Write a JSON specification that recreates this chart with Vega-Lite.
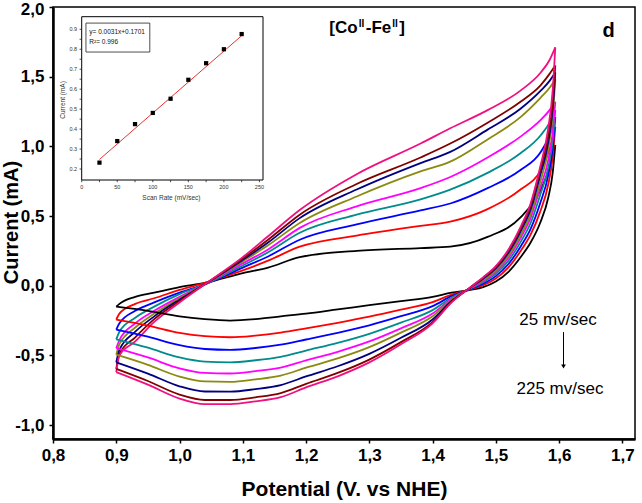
{
  "$schema": "https://vega.github.io/schema/vega-lite/v6.json",
  "width": 582,
  "height": 432,
  "autosize": {"type": "none"},
  "padding": {"left": 53, "top": 7, "right": 7, "bottom": 64},
  "config": {"view": {"stroke": "black", "strokeWidth": 1.5}, "font": "Liberation Sans"},
  "datasets": {
    "cv": [
      {"b":"u","V":0.9,"s25":-0.15,"s50":-0.244,"s75":-0.315,"s100":-0.385,"s125":-0.448,"s150":-0.495,"s175":-0.55,"s200":-0.597,"s225":-0.62},
      {"b":"u","V":0.905,"s25":-0.13,"s50":-0.20,"s75":-0.27,"s100":-0.33,"s125":-0.39,"s150":-0.42,"s175":-0.46,"s200":-0.49,"s225":-0.50},
      {"b":"u","V":0.93,"s25":-0.08,"s50":-0.13,"s75":-0.18,"s100":-0.23,"s125":-0.27,"s150":-0.30,"s175":-0.33,"s200":-0.37,"s225":-0.40},
      {"b":"u","V":0.96,"s25":-0.05,"s50":-0.09,"s75":-0.12,"s100":-0.15,"s125":-0.18,"s150":-0.20,"s175":-0.22,"s200":-0.24,"s225":-0.26},
      {"b":"u","V":1.0,"s25":-0.01,"s50":-0.03,"s75":-0.05,"s100":-0.06,"s125":-0.08,"s150":-0.09,"s175":-0.10,"s200":-0.11,"s225":-0.12},
      {"b":"u","V":1.04,"s25":0.02,"s50":0.02,"s75":0.01,"s100":0.01,"s125":0.01,"s150":0.01,"s175":0.01,"s200":0.01,"s225":0.01},
      {"b":"u","V":1.1,"s25":0.09,"s50":0.11,"s75":0.13,"s100":0.145,"s125":0.16,"s150":0.175,"s175":0.185,"s200":0.195,"s225":0.205},
      {"b":"u","V":1.14,"s25":0.13,"s50":0.18,"s75":0.21,"s100":0.24,"s125":0.26,"s150":0.29,"s175":0.31,"s200":0.33,"s225":0.355},
      {"b":"u","V":1.19,"s25":0.205,"s50":0.28,"s75":0.33,"s100":0.38,"s125":0.415,"s150":0.45,"s175":0.485,"s200":0.51,"s225":0.543},
      {"b":"u","V":1.28,"s25":0.25,"s50":0.36,"s75":0.44,"s100":0.51,"s125":0.57,"s150":0.64,"s175":0.69,"s200":0.73,"s225":0.80},
      {"b":"u","V":1.381,"s25":0.27,"s50":0.43,"s75":0.54,"s100":0.62,"s125":0.70,"s150":0.82,"s175":0.88,"s200":0.92,"s225":1.02},
      {"b":"u","V":1.428,"s25":0.28,"s50":0.46,"s75":0.59,"s100":0.69,"s125":0.78,"s150":0.89,"s175":0.96,"s200":1.02,"s225":1.13},
      {"b":"u","V":1.487,"s25":0.35,"s50":0.55,"s75":0.70,"s100":0.81,"s125":0.92,"s150":1.05,"s175":1.12,"s200":1.17,"s225":1.26},
      {"b":"u","V":1.539,"s25":0.49,"s50":0.69,"s75":0.83,"s100":0.95,"s125":1.07,"s150":1.21,"s175":1.27,"s200":1.32,"s225":1.40},
      {"b":"u","V":1.571,"s25":0.69,"s50":0.83,"s75":0.96,"s100":1.08,"s125":1.19,"s150":1.35,"s175":1.40,"s200":1.44,"s225":1.53},
      {"b":"u","V":1.585,"s25":0.85,"s50":0.98,"s75":1.08,"s100":1.17,"s125":1.26,"s150":1.42,"s175":1.47,"s200":1.52,"s225":1.62},
      {"b":"u","V":1.594,"s25":1.01,"s50":1.14,"s75":1.21,"s100":1.26,"s125":1.32,"s150":1.48,"s175":1.53,"s200":1.58,"s225":1.71},
      {"b":"l","V":1.594,"s25":1.01,"s50":1.14,"s75":1.21,"s100":1.26,"s125":1.32,"s150":1.48,"s175":1.53,"s200":1.58,"s225":1.71},
      {"b":"l","V":1.59,"s25":0.814,"s50":0.927,"s75":0.993,"s100":1.047,"s125":1.103,"s150":1.221,"s175":1.271,"s200":1.318,"s225":1.409},
      {"b":"l","V":1.583,"s25":0.635,"s50":0.73,"s75":0.795,"s100":0.85,"s125":0.905,"s150":0.984,"s175":1.034,"s200":1.078,"s225":1.134},
      {"b":"l","V":1.57,"s25":0.45,"s50":0.53,"s75":0.59,"s100":0.65,"s125":0.70,"s150":0.74,"s175":0.79,"s200":0.83,"s225":0.85},
      {"b":"l","V":1.555,"s25":0.31,"s50":0.366,"s75":0.408,"s100":0.45,"s125":0.487,"s150":0.515,"s175":0.548,"s200":0.576,"s225":0.59},
      {"b":"l","V":1.54,"s25":0.21,"s50":0.254,"s75":0.287,"s100":0.32,"s125":0.349,"s150":0.371,"s175":0.397,"s200":0.419,"s225":0.43},
      {"b":"l","V":1.52,"s25":0.10,"s50":0.132,"s75":0.156,"s100":0.18,"s125":0.201,"s150":0.217,"s175":0.236,"s200":0.252,"s225":0.26},
      {"b":"l","V":1.5,"s25":0.03,"s50":0.052,"s75":0.069,"s100":0.085,"s125":0.10,"s150":0.111,"s175":0.124,"s200":0.135,"s225":0.14},
      {"b":"l","V":1.48,"s25":-0.01,"s50":0.004,"s75":0.015,"s100":0.025,"s125":0.034,"s150":0.041,"s175":0.05,"s200":0.057,"s225":0.06},
      {"b":"l","V":1.46,"s25":-0.03,"s50":-0.026,"s75":-0.023,"s100":-0.02,"s125":-0.017,"s150":-0.015,"s175":-0.013,"s200":-0.011,"s225":-0.01},
      {"b":"l","V":1.43,"s25":-0.05,"s50":-0.064,"s75":-0.075,"s100":-0.085,"s125":-0.094,"s150":-0.101,"s175":-0.11,"s200":-0.117,"s225":-0.12},
      {"b":"l","V":1.4,"s25":-0.08,"s50":-0.118,"s75":-0.147,"s100":-0.175,"s125":-0.20,"s150":-0.219,"s175":-0.242,"s200":-0.261,"s225":-0.27},
      {"b":"l","V":1.35,"s25":-0.11,"s50":-0.172,"s75":-0.219,"s100":-0.265,"s125":-0.306,"s150":-0.337,"s175":-0.374,"s200":-0.405,"s225":-0.42},
      {"b":"l","V":1.3,"s25":-0.14,"s50":-0.222,"s75":-0.284,"s100":-0.345,"s125":-0.40,"s150":-0.441,"s175":-0.489,"s200":-0.53,"s225":-0.55},
      {"b":"l","V":1.25,"s25":-0.17,"s50":-0.266,"s75":-0.338,"s100":-0.41,"s125":-0.474,"s150":-0.522,"s175":-0.578,"s200":-0.626,"s225":-0.65},
      {"b":"l","V":1.2,"s25":-0.20,"s50":-0.306,"s75":-0.386,"s100":-0.465,"s125":-0.535,"s150":-0.588,"s175":-0.651,"s200":-0.704,"s225":-0.73},
      {"b":"l","V":1.16,"s25":-0.22,"s50":-0.336,"s75":-0.423,"s100":-0.51,"s125":-0.587,"s150":-0.645,"s175":-0.713,"s200":-0.771,"s225":-0.80},
      {"b":"l","V":1.12,"s25":-0.24,"s50":-0.358,"s75":-0.447,"s100":-0.535,"s125":-0.613,"s150":-0.672,"s175":-0.742,"s200":-0.801,"s225":-0.83},
      {"b":"l","V":1.08,"s25":-0.25,"s50":-0.37,"s75":-0.46,"s100":-0.55,"s125":-0.63,"s150":-0.69,"s175":-0.76,"s200":-0.82,"s225":-0.85},
      {"b":"l","V":1.04,"s25":-0.24,"s50":-0.362,"s75":-0.454,"s100":-0.545,"s125":-0.626,"s150":-0.687,"s175":-0.759,"s200":-0.82,"s225":-0.85},
      {"b":"l","V":1.0,"s25":-0.22,"s50":-0.338,"s75":-0.427,"s100":-0.515,"s125":-0.593,"s150":-0.652,"s175":-0.722,"s200":-0.781,"s225":-0.81},
      {"b":"l","V":0.95,"s25":-0.18,"s50":-0.286,"s75":-0.366,"s100":-0.445,"s125":-0.515,"s150":-0.568,"s175":-0.631,"s200":-0.684,"s225":-0.71},
      {"b":"l","V":0.9,"s25":-0.15,"s50":-0.244,"s75":-0.315,"s100":-0.385,"s125":-0.448,"s150":-0.495,"s175":-0.55,"s200":-0.597,"s225":-0.62}
    ],
    "inset": [
      {"sr":25,"cur":0.232},{"sr":50,"cur":0.340},{"sr":75,"cur":0.425},{"sr":100,"cur":0.481},{"sr":125,"cur":0.552},
      {"sr":150,"cur":0.647},{"sr":175,"cur":0.730},{"sr":200,"cur":0.800},{"sr":225,"cur":0.876}
    ],
    "fit": [{"sr":25,"cur":0.248},{"sr":225,"cur":0.868}],
    "xt": [{"v":0},{"v":25},{"v":50},{"v":75},{"v":100},{"v":125},{"v":150},{"v":175},{"v":200},{"v":225},{"v":250}],
    "yt": [{"v":0.2},{"v":0.25},{"v":0.3},{"v":0.35},{"v":0.4},{"v":0.45},{"v":0.5},{"v":0.55},{"v":0.6},{"v":0.65},{"v":0.7},{"v":0.75},{"v":0.8},{"v":0.85},{"v":0.9}]
  },
  "layer": [
    {
      "layer": [
        {
          "data": {"name": "cv"},
          "transform": [{"fold": ["s25","s50","s75","s100","s125","s150","s175","s200","s225"], "as": ["rate","I"]}],
          "mark": {"type": "line", "interpolate": "monotone", "strokeWidth": 1.8},
          "encoding": {
            "x": {"field": "V", "type": "quantitative",
              "scale": {"domain": [0.8, 1.72], "nice": false, "zero": false},
              "axis": {"orient": "bottom", "values": [0.8,0.85,0.9,0.95,1.0,1.05,1.1,1.15,1.2,1.25,1.3,1.35,1.4,1.45,1.5,1.55,1.6,1.65,1.7],
                "labelExpr": "abs(round(datum.value*20))%2==1 ? '' : replace(format(datum.value,'.1f'),'.',',')",
                "title": "Potential (V. vs NHE)", "grid": false, "labelFlush": false, "labelOverlap": false,
                "domainColor": "black", "domainWidth": 2.5, "tickColor": "black", "tickWidth": 1.5, "tickSize": 4,
                "labelFont": "Liberation Sans", "labelFontSize": 17, "labelFontWeight": "bold", "labelColor": "black", "labelPadding": 4,
                "titleFont": "Liberation Sans", "titleFontSize": 21, "titleFontWeight": "bold", "titleColor": "black",
                "titleBaseline": "top", "titleY": 39}},
            "y": {"field": "I", "type": "quantitative",
              "scale": {"domain": [-1.1, 2.0], "nice": false, "zero": false},
              "axis": {"orient": "left", "values": [-1,-0.75,-0.5,-0.25,0,0.25,0.5,0.75,1,1.25,1.5,1.75,2],
                "labelExpr": "abs(round(datum.value*4))%2==1 ? '' : replace(replace(format(datum.value,'.1f'),'.',','),'\u2212','-')",
                "labelOffset": {"condition": {"test": "datum.value >= 1.99", "value": 2}, "value": 0},
                "title": "Current (mA)", "grid": false, "labelFlush": false, "labelOverlap": false,
                "domainColor": "black", "domainWidth": 2.5, "tickColor": "black", "tickWidth": 1.5, "tickSize": 4,
                "labelFont": "Liberation Sans", "labelFontSize": 17, "labelFontWeight": "bold", "labelColor": "black", "labelPadding": 5,
                "titleFont": "Liberation Sans", "titleFontSize": 20, "titleFontWeight": "bold", "titleColor": "black",
                "titleX": -32, "titleY": 215}},
            "color": {"field": "rate", "type": "nominal",
              "scale": {"domain": ["s25","s50","s75","s100","s125","s150","s175","s200","s225"],
                "range": ["#000000","#ff0000","#0000ff","#008c8c","#ff00ff","#8a8a10","#000080","#800000","#f0107f"]},
              "legend": null},
            "detail": {"field": "b"}
          }
        },
        {"data": {"values": [{}]}, "mark": {"type": "text", "text": "[Co", "font": "Liberation Sans", "fontWeight": "bold", "fontSize": 17, "align": "left", "baseline": "alphabetic"},
          "encoding": {"x": {"datum": 1.2367, "type": "quantitative"}, "y": {"datum": 1.8134, "type": "quantitative"}}},
        {"data": {"values": [{}]}, "mark": {"type": "text", "text": "II", "font": "Liberation Sans", "fontWeight": "bold", "fontSize": 10, "align": "left", "baseline": "alphabetic"},
          "encoding": {"x": {"datum": 1.2834, "type": "quantitative"}, "y": {"datum": 1.8564, "type": "quantitative"}}},
        {"data": {"values": [{}]}, "mark": {"type": "text", "text": "-Fe", "font": "Liberation Sans", "fontWeight": "bold", "fontSize": 17, "align": "left", "baseline": "alphabetic"},
          "encoding": {"x": {"datum": 1.2945, "type": "quantitative"}, "y": {"datum": 1.8134, "type": "quantitative"}}},
        {"data": {"values": [{}]}, "mark": {"type": "text", "text": "II", "font": "Liberation Sans", "fontWeight": "bold", "fontSize": 10, "align": "left", "baseline": "alphabetic"},
          "encoding": {"x": {"datum": 1.3364, "type": "quantitative"}, "y": {"datum": 1.8564, "type": "quantitative"}}},
        {"data": {"values": [{}]}, "mark": {"type": "text", "text": "]", "font": "Liberation Sans", "fontWeight": "bold", "fontSize": 17, "align": "left", "baseline": "alphabetic"},
          "encoding": {"x": {"datum": 1.3475, "type": "quantitative"}, "y": {"datum": 1.8134, "type": "quantitative"}}},
        {"data": {"values": [{}]}, "mark": {"type": "text", "text": "d", "font": "Liberation Sans", "fontWeight": "bold", "fontSize": 20, "align": "center", "baseline": "alphabetic"},
          "encoding": {"x": {"datum": 1.6782, "type": "quantitative"}, "y": {"datum": 1.7846, "type": "quantitative"}}},
        {"data": {"values": [{}]}, "mark": {"type": "text", "text": "25 mv/sec", "font": "Liberation Sans", "fontSize": 17, "align": "center", "baseline": "middle"},
          "encoding": {"x": {"datum": 1.5983, "type": "quantitative"}, "y": {"datum": -0.247, "type": "quantitative"}}},
        {"data": {"values": [{}]}, "mark": {"type": "text", "text": "225 mv/sec", "font": "Liberation Sans", "fontSize": 17, "align": "center", "baseline": "middle"},
          "encoding": {"x": {"datum": 1.6014, "type": "quantitative"}, "y": {"datum": -0.742, "type": "quantitative"}}},
        {"data": {"values": [{}]}, "mark": {"type": "rule", "color": "black", "strokeWidth": 1},
          "encoding": {"x": {"datum": 1.607, "type": "quantitative"}, "y": {"datum": -0.333, "type": "quantitative"}, "y2": {"datum": -0.58}}},
        {"data": {"values": [{}]}, "mark": {"type": "point", "shape": "triangle-down", "filled": true, "color": "black", "size": 22, "opacity": 1},
          "encoding": {"x": {"datum": 1.607, "type": "quantitative"}, "y": {"datum": -0.58, "type": "quantitative"}}}
      ]
    },
    {
      "layer": [
        {"data": {"values": [{}]}, "mark": {"type": "rect", "fill": "white", "stroke": "black", "strokeWidth": 1},
          "encoding": {
            "x": {"datum": 0, "type": "quantitative", "scale": {"domain": [0, 255], "range": [28.7, 210], "nice": false, "zero": false}, "axis": null},
            "x2": {"datum": 255},
            "y": {"datum": 0.145, "type": "quantitative", "scale": {"domain": [0.145, 0.963], "range": [173, 9.7], "nice": false, "zero": false}, "axis": null},
            "y2": {"datum": 0.963}}},
        {"data": {"name": "xt"}, "mark": {"type": "rule", "color": "#222", "strokeWidth": 0.8},
          "encoding": {"x": {"field": "v", "type": "quantitative", "axis": null}, "y": {"datum": 0.145, "type": "quantitative", "axis": null}, "y2": {"datum": 0.134}}},
        {"data": {"name": "yt"}, "mark": {"type": "rule", "color": "#222", "strokeWidth": 0.8},
          "encoding": {"y": {"field": "v", "type": "quantitative", "axis": null}, "x": {"datum": 0, "type": "quantitative", "axis": null}, "x2": {"datum": -3}}},
        {"data": {"name": "xt"}, "transform": [{"filter": "datum.v % 50 == 0"}],
          "mark": {"type": "text", "font": "Liberation Sans", "fontSize": 5.5, "color": "#333", "align": "center", "baseline": "middle"},
          "encoding": {"x": {"field": "v", "type": "quantitative", "axis": null}, "y": {"datum": 0.111, "type": "quantitative", "axis": null},
            "text": {"field": "v", "type": "quantitative", "format": "d"}}},
        {"data": {"name": "yt"}, "transform": [{"filter": "abs(round(datum.v * 20)) % 2 == 0"}],
          "mark": {"type": "text", "font": "Liberation Sans", "fontSize": 5.5, "color": "#333", "align": "right", "baseline": "middle"},
          "encoding": {"y": {"field": "v", "type": "quantitative", "axis": null}, "x": {"datum": -6.5, "type": "quantitative", "axis": null},
            "text": {"field": "v", "type": "quantitative", "format": ".1f"}}},
        {"data": {"values": [{}]}, "mark": {"type": "text", "text": "Scan Rate (mV/sec)", "font": "Liberation Sans", "fontSize": 6.5, "color": "#333", "align": "center", "baseline": "middle"},
          "encoding": {"x": {"datum": 126.2, "type": "quantitative", "axis": null}, "y": {"datum": 0.053, "type": "quantitative", "axis": null}}},
        {"data": {"values": [{}]}, "mark": {"type": "text", "text": "Current (mA)", "font": "Liberation Sans", "fontSize": 6.5, "color": "#333", "align": "center", "baseline": "middle", "angle": 270},
          "encoding": {"x": {"datum": -26.2, "type": "quantitative", "axis": null}, "y": {"datum": 0.546, "type": "quantitative", "axis": null}}},
        {"data": {"name": "fit"}, "mark": {"type": "line", "color": "#e8322e", "strokeWidth": 1},
          "encoding": {"x": {"field": "sr", "type": "quantitative", "axis": null}, "y": {"field": "cur", "type": "quantitative", "axis": null}}},
        {"data": {"name": "inset"}, "mark": {"type": "point", "shape": "square", "filled": true, "color": "black", "size": 18, "opacity": 1},
          "encoding": {"x": {"field": "sr", "type": "quantitative", "axis": null}, "y": {"field": "cur", "type": "quantitative", "axis": null}}},
        {"data": {"values": [{}]}, "mark": {"type": "rect", "fill": "white", "stroke": "#222", "strokeWidth": 0.8},
          "encoding": {"x": {"datum": 6, "type": "quantitative", "axis": null}, "x2": {"datum": 95.8}, "y": {"datum": 0.786, "type": "quantitative", "axis": null}, "y2": {"datum": 0.931}}},
        {"data": {"values": [{}]}, "mark": {"type": "text", "text": "y= 0.0031x+0.1701", "font": "Liberation Sans", "fontSize": 6.5, "align": "left", "baseline": "middle", "color": "#111"},
          "encoding": {"x": {"datum": 10.7, "type": "quantitative", "axis": null}, "y": {"datum": 0.888, "type": "quantitative", "axis": null}}},
        {"data": {"values": [{}]}, "mark": {"type": "text", "text": "R²= 0.996", "font": "Liberation Sans", "fontSize": 6.5, "align": "left", "baseline": "middle", "color": "#111"},
          "encoding": {"x": {"datum": 10.7, "type": "quantitative", "axis": null}, "y": {"datum": 0.838, "type": "quantitative", "axis": null}}}
      ]
    }
  ],
  "resolve": {"scale": {"x": "independent", "y": "independent"}}
}
